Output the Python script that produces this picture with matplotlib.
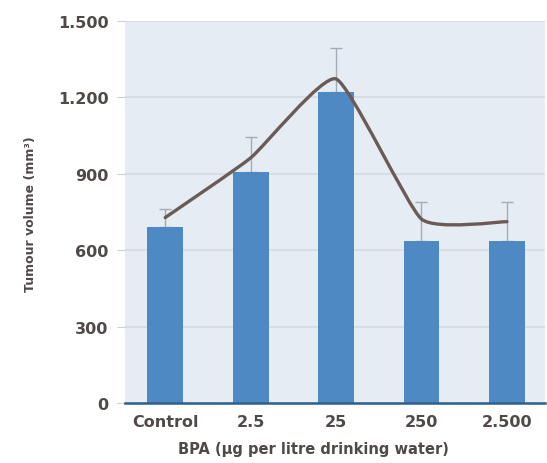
import numpy as np
import matplotlib.pyplot as plt
from matplotlib.path import Path
from matplotlib.patches import PathPatch

categories = ['Control', '2.5', '25', '250', '2.500']
volume = [690, 906, 1220, 635, 635]
err_up = [70, 140, 175, 155, 155]
trend = [728, 962, 1272, 722, 712]
yticks = [0, 300, 600, 900, 1200, 1500]
ytick_labels = ['0', '300', '600', '900', '1.200', '1.500']

txt = '#4f4947'
fam = ['DejaVu Sans']

fig = plt.figure(figsize=(5.47, 4.64), dpi=100)
ax = fig.add_axes([0.2285, 0.129, 0.767, 0.824])
ax.set_facecolor('#e5ecf4')

x = np.arange(len(categories))
ax.bar(x, volume, width=0.42, color='#4f89c3', zorder=3)
ax.errorbar(x, volume, yerr=[np.zeros(len(x)), err_up], fmt='none',
            ecolor='#a3abb4', elinewidth=1, capsize=4.5, capthick=1, zorder=2)

# smoothed trend line (low tension catmull-rom -> bezier)
k = 0.08
px = list(x) ; py = list(trend)
verts = [(px[0], py[0])]
codes = [Path.MOVETO]
n = len(px)
for i in range(n - 1):
    p0 = (px[max(i - 1, 0)], py[max(i - 1, 0)])
    p1 = (px[i], py[i])
    p2 = (px[i + 1], py[i + 1])
    p3 = (px[min(i + 2, n - 1)], py[min(i + 2, n - 1)])
    c1 = (p1[0] + (p2[0] - p0[0]) * k, p1[1] + (p2[1] - p0[1]) * k)
    c2 = (p2[0] - (p3[0] - p1[0]) * k, p2[1] - (p3[1] - p1[1]) * k)
    verts += [c1, c2, p2]
    codes += [Path.CURVE4] * 3
ax.add_patch(PathPatch(Path(verts, codes), facecolor='none',
                       edgecolor='#6b5b56', lw=2.4, zorder=4, capstyle='round'))

ax.set_ylim(0, 1500)
ax.set_xlim(-0.47, 4.44)
ax.set_yticks(yticks)
ax.set_yticklabels(ytick_labels)
ax.set_xticks(x)
ax.set_xticklabels(categories)
ax.yaxis.grid(True, color='#d3dbe4', lw=1.2, zorder=0)
for s in ['top', 'right', 'left']:
    ax.spines[s].set_visible(False)
ax.spines['bottom'].set_color('#2f5f8f')
ax.spines['bottom'].set_linewidth(1.8)
ax.spines['bottom'].set_zorder(5)
ax.tick_params(axis='y', length=6, color='#c9d0d8', pad=6)
ax.tick_params(axis='x', length=0, pad=8)
for lab in ax.get_xticklabels() + ax.get_yticklabels():
    lab.set_fontfamily(fam)
    lab.set_fontweight('bold')
    lab.set_fontsize(11.5)
    lab.set_color(txt)

fig.text(313 / 547, 1 - 450 / 464, 'BPA (\u00b5g per litre drinking water)',
         family=fam, fontweight='bold', fontsize=10.5, color=txt,
         ha='center', va='center')
fig.text(0.055, 0.539, 'Tumour volume (mm\u00b3)', rotation=90, family=fam,
         fontweight='bold', fontsize=9, color=txt,
         ha='center', va='center')

fig.savefig('out.png', dpi=100)
